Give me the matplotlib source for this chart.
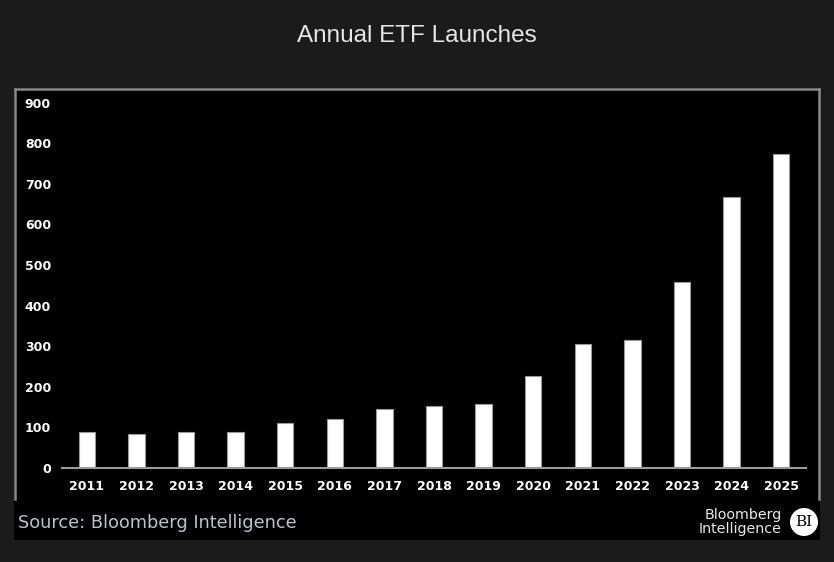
import matplotlib
matplotlib.use("Agg")
import matplotlib.pyplot as plt
from matplotlib.patches import Rectangle, Ellipse

years = ["2011", "2012", "2013", "2014", "2015", "2016", "2017", "2018",
         "2019", "2020", "2021", "2022", "2023", "2024", "2025"]
launches = [88, 84, 88, 88, 110, 120, 145, 152, 157, 226, 305, 314, 457, 668, 774]
yticks = [0, 100, 200, 300, 400, 500, 600, 700, 800, 900]

W, H = 834, 562
fig = plt.figure(figsize=(W / 100, H / 100), dpi=100)
fig.patch.set_facecolor("#1b1b1b")

def fx(px):
    return px / W

def fy(py):
    return 1 - py / H

# black panel
fig.patches.append(Rectangle((fx(14), fy(540)), fx(820) - fx(14), fy(88) - fy(540),
                             transform=fig.transFigure, facecolor="black",
                             edgecolor="none", zorder=0))
# panel border (top, left, right)
border_kw = dict(color="#8a8a8a", lw=1.8, transform=fig.transFigure, zorder=1)
fig.add_artist(plt.Line2D([fx(14.5), fx(819)], [fy(89), fy(89)], **border_kw))
fig.add_artist(plt.Line2D([fx(15), fx(15)], [fy(89), fy(499)], **border_kw))
fig.add_artist(plt.Line2D([fx(819), fx(819)], [fy(89), fy(499)], **border_kw))

fig.text(0.5, fy(36), "Annual ETF Launches", ha="center", va="center",
         color="#e6e6e6", fontsize=17.5, family="Liberation Sans")

ax = fig.add_axes([fx(62), fy(468), fx(806) - fx(62), fy(102.5) - fy(468)])
ax.set_zorder(3)
ax.set_facecolor("black")
x = range(len(years))
ax.bar(x, launches, width=0.33, color="white", edgecolor="#9a9a9a", linewidth=0.8, zorder=2)
ax.set_xlim(-0.5, len(years) - 0.5)
ax.set_ylim(0, 900)
ax.set_yticks(yticks)
ax.set_yticklabels([str(t) for t in yticks])
ax.set_xticks(list(x))
ax.set_xticklabels(years)
for s in ["top", "right", "left"]:
    ax.spines[s].set_visible(False)
ax.spines["bottom"].set_color("#9a9a9a")
ax.spines["bottom"].set_linewidth(1.5)
ax.tick_params(axis="both", length=0, colors="white")
ax.tick_params(axis="y", pad=8)
ax.tick_params(axis="x", pad=9)
for lab in ax.get_xticklabels() + ax.get_yticklabels():
    lab.set_fontsize(9)
    lab.set_fontweight("bold")
    lab.set_family("DejaVu Sans")

fig.text(fx(18), fy(523), "Source: Bloomberg Intelligence", ha="left", va="center",
         color="#b9c3cc", fontsize=12.8, family="DejaVu Sans")

fig.text(fx(782), fy(522), "Bloomberg\nIntelligence", ha="right", va="center",
         color="#e8e8e8", fontsize=10.3, family="DejaVu Sans", linespacing=0.95)
circ = Ellipse((fx(804), fy(522)), width=28 / W, height=28 / H, transform=fig.transFigure,
               facecolor="white", edgecolor="none", zorder=3)
fig.patches.append(circ)
fig.text(fx(804), fy(522), "BI", ha="center", va="center", color="black",
         fontsize=11, family="DejaVu Serif", zorder=4)

fig.savefig("out.png", dpi=100, facecolor=fig.get_facecolor())
